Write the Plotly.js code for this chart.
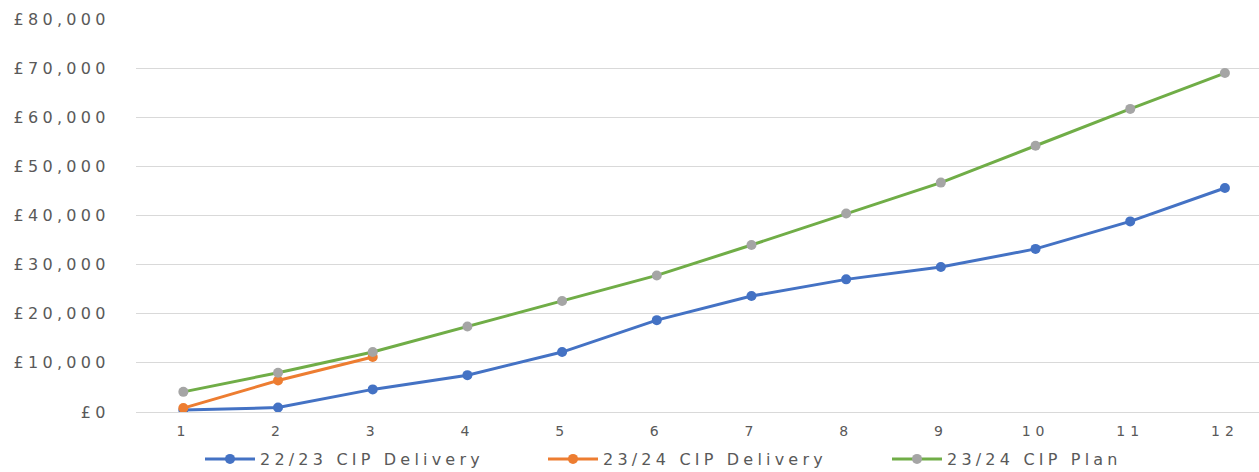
<!DOCTYPE html>
<html>
<head>
<meta charset="utf-8">
<script src="https://cdn.plot.ly/plotly-3.0.1.min.js"></script>
<style>
html,body{margin:0;padding:0;background:#fff;}
#chart{width:1259px;height:472px;}
.infolayer text, .legendtext{letter-spacing:4.2px;}
.ytick text{letter-spacing:4.3px;}
.xtick text{letter-spacing:5px;}
</style>
</head>
<body>
<div id="chart"></div>
<script>
const months = [1,2,3,4,5,6,7,8,9,10,11,12];
const delivery2223 = [400, 900, 4600, 7500, 12200, 18700, 23600, 27000, 29500, 33200, 38800, 45600];
const delivery2324 = [800, 6400, 11200];
const plan2324 = [4100, 8000, 12200, 17400, 22600, 27800, 34000, 40400, 46700, 54200, 61700, 69000];
const seriesNames = ['22/23 CIP Delivery', '23/24 CIP Delivery', '23/24 CIP Plan'];
const yTickVals = [0,10000,20000,30000,40000,50000,60000,70000,80000];
const yTickText = ['£0','£10,000','£20,000','£30,000','£40,000','£50,000','£60,000','£70,000','£80,000'];

const traces = [
  {x: months, y: delivery2223, name: seriesNames[0], type:'scatter', mode:'lines+markers',
   line:{color:'#4472C4', width:3}, marker:{color:'#4472C4', size:10}, legend:'legend'},
  {x: months.slice(0, delivery2324.length), y: delivery2324, name: seriesNames[1], type:'scatter', mode:'lines+markers',
   line:{color:'#ED7D31', width:3}, marker:{color:'#ED7D31', size:10}, legend:'legend2'},
  {x: months, y: plan2324, name: seriesNames[2], type:'scatter', mode:'lines+markers',
   line:{color:'#70AD47', width:3}, marker:{color:'#A5A5A5', size:10}, legend:'legend3'}
];

const legFont = {family:'DejaVu Sans, sans-serif', size:16, color:'#595959'};
function leg(px){
  return {x:px/1259, xref:'container', xanchor:'left', y:1-459/472, yref:'container', yanchor:'middle',
          orientation:'h', font:legFont, bgcolor:'rgba(0,0,0,0)', borderwidth:0, itemwidth:50,
          entrywidth:290, entrywidthmode:'pixels'};
}

const layout = {
  width:1259, height:472,
  margin:{l:136, r:0, t:19, b:60},
  paper_bgcolor:'#fff', plot_bgcolor:'#fff',
  showlegend:true,
  legend: leg(200),
  legend2: leg(543),
  legend3: leg(887),
  xaxis:{
    range:[0.5, 12.36], tickvals: months, ticktext: months.map(String),
    showgrid:false, zeroline:false, showline:true, linecolor:'#d9d9d9', linewidth:1,
    ticks:'outside', ticklen:6, tickcolor:'rgba(0,0,0,0)',
    tickfont:{family:'DejaVu Sans, sans-serif', size:14, color:'#595959'},
    fixedrange:true
  },
  yaxis:{
    range:[0, 80000], tickvals: yTickVals, ticktext: yTickText,
    showgrid:true, gridcolor:'#d9d9d9', gridwidth:1, zeroline:false, showline:false,
    ticks:'outside', ticklen:22, tickcolor:'rgba(0,0,0,0)',
    tickfont:{family:'DejaVu Sans, sans-serif', size:16, color:'#595959'},
    fixedrange:true
  }
};

Plotly.newPlot('chart', traces, layout, {displayModeBar:false, staticPlot:true});
</script>
</body>
</html>
